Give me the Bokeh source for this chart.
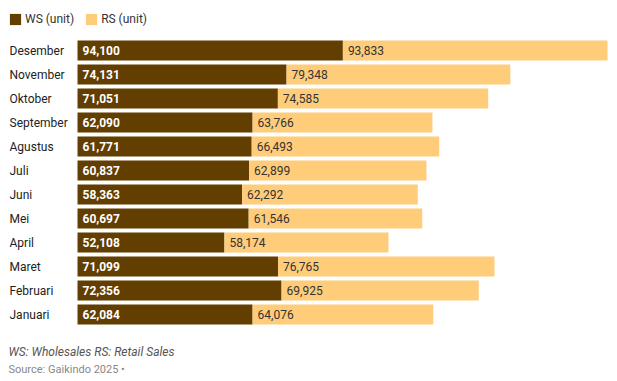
from bokeh.plotting import figure
from bokeh.models import ColumnDataSource, Range1d, Legend, LegendItem, Label
from bokeh.core.properties import value
from bokeh.embed import file_html
from bokeh.resources import INLINE

months = ["Desember", "November", "Oktober", "September", "Agustus", "Juli",
          "Juni", "Mei", "April", "Maret", "Februari", "Januari"]
ws = [94100, 74131, 71051, 62090, 61771, 60837, 58363, 60697, 52108, 71099, 72356, 62084]
rs = [93833, 79348, 74585, 63766, 66493, 62899, 62292, 61546, 58174, 76765, 69925, 64076]
series_names = ["WS (unit)", "RS (unit)"]
note_text = "WS: Wholesales RS: Retail Sales"
source_text = "Source: Gaikindo 2025 \u2022"

WS_COLOR = "#623e00"
RS_COLOR = "#ffcc7a"
FONT = "Roboto"

W, H = 612, 379
PIX_PER_UNIT = 530 / max(a + b for a, b in zip(ws, rs))
BAR_LEFT = 77
x0 = -BAR_LEFT / PIX_PER_UNIT
x1 = x0 + W / PIX_PER_UNIT
PITCH = 24
TOP = 50
y_top = -TOP / PITCH
y_bot = (H - TOP) / PITCH

rows = list(range(len(months)))
src = ColumnDataSource(dict(
    row=rows,
    month=months,
    ws=ws,
    rs=rs,
    total=[a + b for a, b in zip(ws, rs)],
    ws_lbl=[f"{v:,}" for v in ws],
    rs_lbl=[f"{v:,}" for v in rs],
    zero=[0] * len(rows),
    xstart=[x0] * len(rows),
))

p = figure(width=W, height=H, output_backend="svg", toolbar_location=None,
           x_range=Range1d(x0, x1), y_range=Range1d(y_bot, y_top),
           x_axis_location=None, y_axis_location=None, min_border=0,
           outline_line_color=None)
p.grid.visible = False

r_ws = p.hbar(y="row", left="zero", right="ws", height=20 / PITCH, source=src,
              fill_color=WS_COLOR, line_color=None)
r_rs = p.hbar(y="row", left="ws", right="total", height=20 / PITCH, source=src,
              fill_color=RS_COLOR, line_color=None)

p.text(x="xstart", y="row", text="month", source=src, x_offset=9,
       text_font=value(FONT), text_font_size="12px", text_color="#222222",
       text_baseline="middle", text_align="left")
p.text(x="zero", y="row", text="ws_lbl", source=src, x_offset=5,
       text_font=value(FONT), text_font_size="12px", text_font_style="bold",
       text_color="#ffffff", text_baseline="middle", text_align="left")
p.text(x="ws", y="row", text="rs_lbl", source=src, x_offset=5,
       text_font=value(FONT), text_font_size="12px", text_color="#333333",
       text_baseline="middle", text_align="left")

legend = Legend(items=[LegendItem(label=series_names[0], renderers=[r_ws]),
                       LegendItem(label=series_names[1], renderers=[r_rs])],
                orientation="horizontal", location=(8, H - 12 - 14),
                glyph_width=14, glyph_height=14, label_height=14,
                label_standoff=3, spacing=10, padding=0, margin=0,
                border_line_color=None, background_fill_alpha=0,
                label_text_font=FONT, label_text_font_size="12px",
                label_text_color="#333333")
p.add_layout(legend)

p.add_layout(Label(x=8, x_units="screen", y=(351 - TOP) / PITCH, text=note_text,
                   text_font=FONT, text_font_size="12px", text_font_style="italic",
                   text_color="#555555", text_baseline="middle"))
p.add_layout(Label(x=8, x_units="screen", y=(369 - TOP) / PITCH, text=source_text,
                   text_font=FONT, text_font_size="11px",
                   text_color="#888888", text_baseline="middle"))

open("out.html", "w").write(file_html(p, INLINE))
